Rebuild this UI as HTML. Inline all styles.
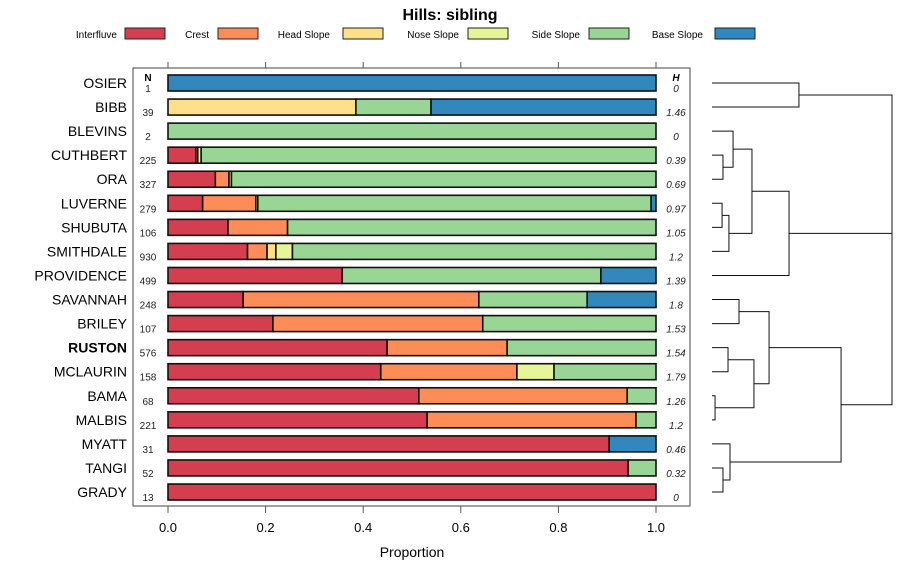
<!DOCTYPE html>
<html><head><meta charset="utf-8"><style>
body{margin:0;background:#fff;}
svg{display:block;font-family:"Liberation Sans",sans-serif;}
</style></head><body>
<svg id="chart" width="900" height="580" viewBox="0 0 900 580">
<text x="450" y="20" text-anchor="middle" font-size="16" font-weight="bold">Hills: sibling</text>
<g id="legend"></g>
<rect x="133" y="68" width="557" height="438" fill="none" stroke="#444" stroke-width="1"/>
<g id="bars"></g>
<g id="axis"></g>
<text x="412" y="557" text-anchor="middle" font-size="14">Proportion</text>
<g id="dendro"></g>
</svg>
<script>
const categories=["OSIER","BIBB","BLEVINS","CUTHBERT","ORA","LUVERNE","SHUBUTA","SMITHDALE","PROVIDENCE","SAVANNAH","BRILEY","RUSTON","MCLAURIN","BAMA","MALBIS","MYATT","TANGI","GRADY"];
const nValues=[1,39,2,225,327,279,106,930,499,248,107,576,158,68,221,31,52,13];
const hValues=["0","1.46","0","0.39","0.69","0.97","1.05","1.2","1.39","1.8","1.53","1.54","1.79","1.26","1.2","0.46","0.32","0"];
const seriesNames=["Interfluve","Crest","Head Slope","Nose Slope","Side Slope","Base Slope"];
const interfluve=[0,0,0,0.057,0.097,0.071,0.123,0.163,0.357,0.154,0.215,0.449,0.436,0.514,0.531,0.904,0.943,1];
const crest=[0,0,0,0.004,0.028,0.109,0.122,0.040,0,0.483,0.430,0.246,0.279,0.427,0.428,0,0,0];
const headSlope=[0,0.385,0,0,0,0,0,0.018,0,0,0,0,0,0,0,0,0,0];
const noseSlope=[0,0,0,0.007,0.005,0.004,0,0.034,0,0,0,0,0.076,0,0,0,0,0];
const sideSlope=[0,0.154,1,0.932,0.870,0.806,0.755,0.745,0.530,0.222,0.355,0.305,0.209,0.059,0.041,0,0.057,0];
const baseSlope=[1,0.461,0,0,0,0.010,0,0,0.113,0.141,0,0,0,0,0,0.096,0,0];
const ticks=[0,0.2,0.4,0.6,0.8,1.0];
const tickLabels=["0.0","0.2","0.4","0.6","0.8","1.0"];
// dendrogram merges: [left, right, height] ; negative = leaf index (-(i+1)), positive = merge index+1
const merges=[[-1,-2,0.483],[-4,-5,0.061],[-3,2,0.117],[-6,-7,0.056],[4,-8,0.094],[3,5,0.222],[6,-9,0.428],[-10,-11,0.15],[-12,-13,0.089],[-14,-15,0.017],[9,10,0.233],[8,11,0.317],[-17,-18,0.061],[-16,13,0.10],[12,14,0.717],[1,7,1.0],[16,15,1.0]];
const colors=["#D53E4F","#FC8D59","#FEE08B","#E6F598","#99D594","#3288BD"];
const series=[interfluve,crest,headSlope,noseSlope,sideSlope,baseSlope];
const NS="http://www.w3.org/2000/svg";
function mk(t,a,p){const e=document.createElementNS(NS,t);for(const k in a)e.setAttribute(k,a[k]);p.appendChild(e);return e;}
const xS=v=>168+v*488;
const yS=i=>83+i*24.06;
const dX=h=>712+h*180;
const bars=document.getElementById('bars');
const legend=document.getElementById('legend');
const legX=[[117,125],[209,218],[330,343],[459,468],[580,589],[703,715]];
seriesNames.forEach((n,s)=>{
 const t=mk('text',{x:legX[s][0],y:38,'text-anchor':'end','font-size':10},legend);t.textContent=n;
 
 
 const r=mk('rect',{x:legX[s][1],y:28,width:40,height:11,fill:colors[s],stroke:'#222','stroke-width':1},legend);
 
 
});
let t=mk('text',{x:148,y:81,'text-anchor':'middle','font-size':10,'font-weight':'bold'},bars);t.textContent='N';


t=mk('text',{x:676,y:81,'text-anchor':'middle','font-size':10,'font-weight':'bold','font-style':'italic'},bars);t.textContent='H';


categories.forEach((c,i)=>{
 const y=yS(i);
 const lab=mk('text',{x:127,y:y+5,'text-anchor':'end','font-size':14,'font-weight':c==='RUSTON'?'bold':'normal'},bars);lab.textContent=c;
 
 
 const n=mk('text',{x:148,y:y+9,'text-anchor':'middle','font-size':10,fill:'#222'},bars);n.textContent=nValues[i];
 
 
 const h=mk('text',{x:676,y:y+9,'text-anchor':'middle','font-size':10,'font-style':'italic',fill:'#222'},bars);h.textContent=hValues[i];
 
 
 let cum=0;
 series.forEach((arr,s)=>{
  const v=arr[i];if(v<=0)return;
  const r=mk('rect',{x:xS(cum),y:y-8,width:v*488,height:16,fill:colors[s],stroke:'#111','stroke-width':1.6},bars);
  
  
  cum+=v;
 });
});
const axis=document.getElementById('axis');
ticks.forEach((v,k)=>{
 mk('line',{x1:xS(v),x2:xS(v),y1:506,y2:513,stroke:'#555'},axis);
 mk('line',{x1:xS(v),x2:xS(v),y1:62,y2:68,stroke:'#555'},axis);
 const tl=mk('text',{x:xS(v),y:532,'text-anchor':'middle','font-size':13},axis);tl.textContent=tickLabels[k];
 
 
});
const dendro=document.getElementById('dendro');
const nodeY=[],nodeX=[];
function pos(id){return id<0?[dX(0),yS(-id-1)]:[nodeX[id-1],nodeY[id-1]];}
merges.forEach((m,k)=>{
 const a=pos(m[0]),b=pos(m[1]);const x=dX(m[2]);
 const p=mk('path',{d:`M${a[0]},${a[1]}H${x}V${b[1]}H${b[0]}`,fill:'none',stroke:'#111','stroke-width':1},dendro);
 
 
 nodeX.push(x);nodeY.push((a[1]+b[1])/2);
});
</script>
</body></html>
